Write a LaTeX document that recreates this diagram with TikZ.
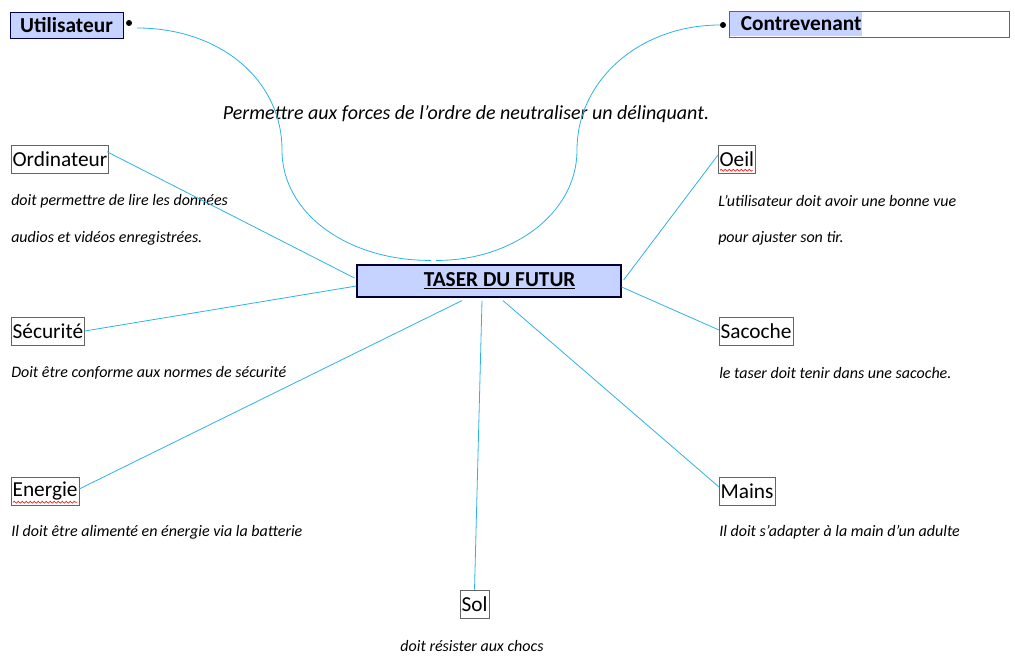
\documentclass[tikz,border=0pt]{standalone}
\usepackage{fontspec}
\setmainfont{Carlito}
\usetikzlibrary{calc,decorations.pathmorphing}
\definecolor{bleuclair}{RGB}{198,210,255}
\definecolor{lien}{RGB}{45,178,228}
\definecolor{cadre}{RGB}{100,100,100}
\def\grand{\fontsize{16}{19}\selectfont}
\def\petit{\itshape\fontsize{12}{14}\selectfont}

\begin{document}
\begin{tikzpicture}[x=0.75pt,y=-0.75pt,
		role/.style={draw=black!70!blue, fill=bleuclair, font=\grand\bfseries, minimum height=19.5pt, inner sep=1pt},
		etiq/.style={draw=cadre, font=\grand, minimum height=21pt, inner sep=1pt, anchor=west},
		desc/.style={font=\petit, inner sep=0pt, anchor=west},
		puce/.style={circle, fill=black, inner sep=0pt, minimum size=4.5pt},
		lien/.style={draw=lien, line width=0.6pt},
		faute/.style={draw=red, line width=0.5pt, decorate, decoration={snake, amplitude=0.7pt, segment length=3pt}}]
				\useasboundingbox (0,0) rectangle (1015,660);
				\node[role, minimum width=84.75pt] (util) at (66.5,25) {Utilisateur};
				\node[puce] (pu) at (129,23) {};
				\node[role, fill=white, draw=cadre, minimum width=210pt, anchor=west] (contre) at (729,24) {};
				\node[fill=bleuclair, font=\grand\bfseries, inner xsep=0pt, inner ysep=1pt, minimum height=18pt, anchor=west] (contretxt) at ($(contre.west)+(1,0)$) {\hspace*{8pt}Contrevenant};
				\node[puce] (pc) at (723,25) {};
				\node[font=\itshape\fontsize{15}{18}\selectfont] (but) at (466,114) {Permettre aux forces de l’ordre de neutraliser un délinquant.};
				\node[role, draw=black!80!blue, line width=0.9pt, minimum width=198pt, minimum height=24pt] (taser) at (489,281) {\hspace*{16pt}\underline{TASER DU FUTUR}};
				\node[etiq] (ordi) at (11,159) {Ordinateur};
				\node[desc] (d1) at (11,201) {doit permettre de lire les données};
				\node[desc] (d2) at (11,238) {audios et vidéos enregistrées.};
				\node[etiq] (oeil) at (718,159) {Oeil};
				\node[desc] (d3) at (718,201) {L’utilisateur doit avoir une bonne vue};
				\node[desc] (d4) at (718,238) {pour ajuster son tir.};
				\node[etiq] (secu) at (11,331) {Sécurité};
				\node[desc] (d5) at (11,373) {Doit être conforme aux normes de sécurité};
				\node[etiq] (sacoche) at (719,331) {Sacoche};
				\node[desc] (d6) at (719,373) {le taser doit tenir dans une sacoche.};
				\node[etiq] (energie) at (11,491) {Energie};
				\node[desc] (d7) at (11,532) {Il doit être alimenté en énergie via la batterie};
				\node[etiq] (mains) at (719,491) {Mains};
				\node[desc] (d8) at (719,532) {Il doit s’adapter à la main d’un adulte};
				\node[etiq, anchor=center] (sol) at (474.5,604) {Sol};
				\node[desc, anchor=center] (d9) at (472,646) {doit résister aux chocs};
				% acteurs
				\draw[lien] ($(pu)+(8,5)$) .. controls (220,28) and (282,80) .. (282,150) .. controls (282,215) and (350,261) .. ($(taser.north)+(-58,-4)$);
				\draw[lien] ($(pc)+(-3,0)$) .. controls (640,25) and (577,80) .. (577,150) .. controls (577,215) and (510,261) .. ($(taser.north)+(-53,-4)$);
				% milieux
				\draw[lien] ($(ordi.north east)+(-2,7)$) -- ($(taser.west)+(-2,-3)$);
				\draw[lien] (secu.east) -- ($(taser.west)+(0,5)$);
				\draw[lien] ($(energie.east)+(0,-2)$) -- ($(taser.south)+(-27,3)$);
				\draw[lien] (sol.north) -- ($(taser.south)+(-7,3)$);
				\draw[lien] ($(mains.west)+(0,-4)$) -- ($(taser.south)+(14,3)$);
				\draw[lien] ($(sacoche.west)+(0,-1)$) -- ($(taser.east)+(0,6)$);
				\draw[lien] ($(oeil.west)+(0,-4)$) -- ($(taser.east)+(2,-1)$);
				% soulignes
				\draw[faute] ($(oeil.south west)+(2,-3)$) -- ($(oeil.south east)+(-3,-3)$);
				\draw[faute] ($(energie.south west)+(2,-3)$) -- ($(energie.south east)+(-2,-3)$);
			\end{tikzpicture}
\end{document}
